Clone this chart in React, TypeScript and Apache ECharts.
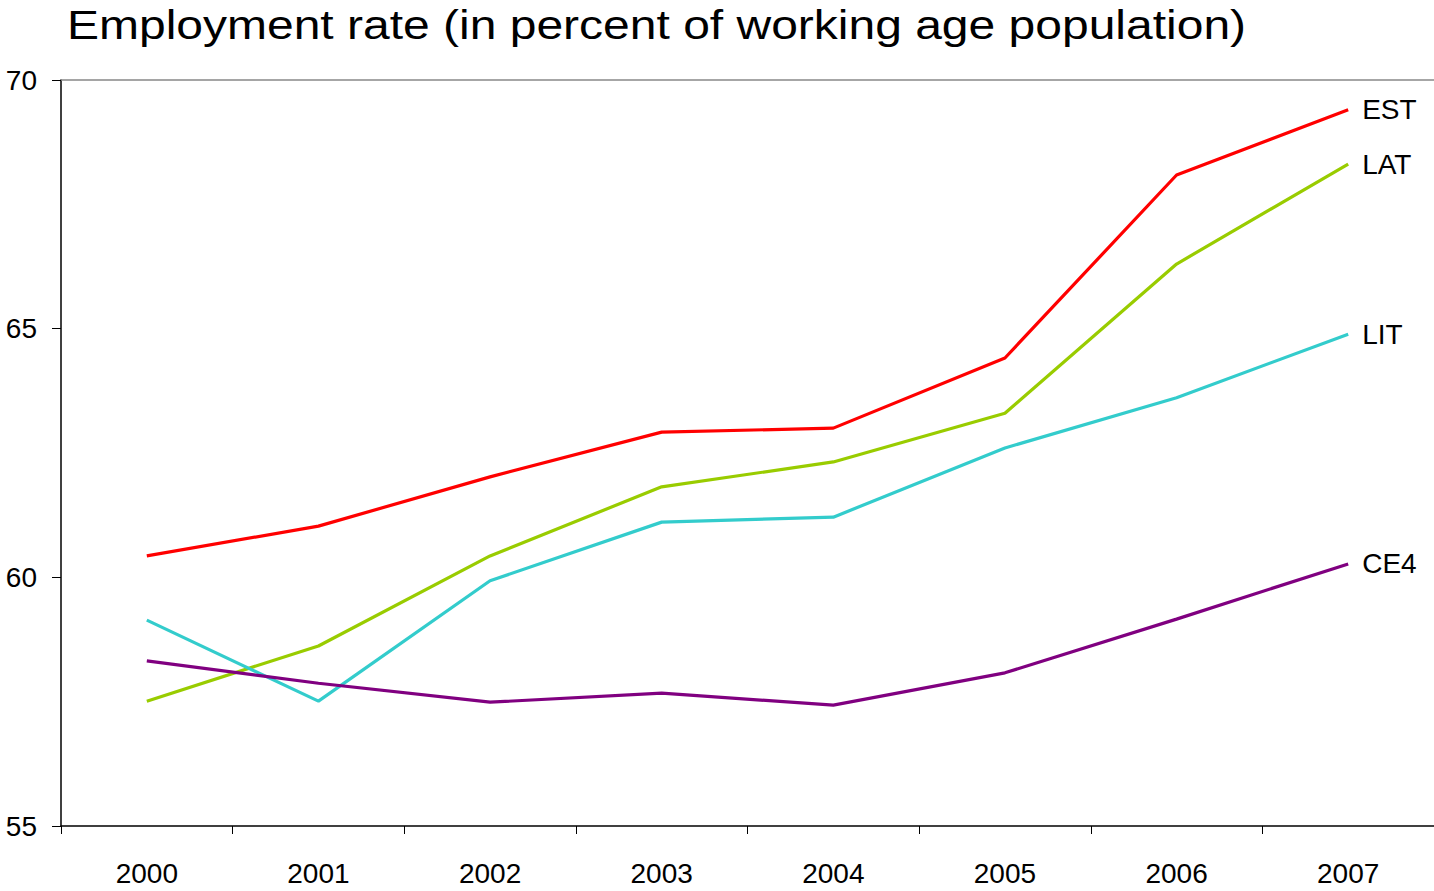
import React, { useEffect, useRef } from "react";
import * as echarts from "echarts";

const years = ["2000", "2001", "2002", "2003", "2004", "2005", "2006", "2007"];
const est = [60.43, 61.03, 62.02, 62.92, 63.0, 64.41, 68.09, 69.4];
const lat = [57.51, 58.62, 60.43, 61.82, 62.32, 63.3, 66.3, 68.31];
const lit = [59.14, 57.51, 59.93, 61.11, 61.21, 62.6, 63.61, 64.89];
const ce4 = [58.32, 57.87, 57.49, 57.67, 57.43, 58.08, 59.16, 60.27];
const seriesNames = ["EST", "LAT", "LIT", "CE4"];
const seriesColors = ["#FF0000", "#99CC00", "#33CCCC", "#800080"];
const titleText = "Employment rate (in percent of working age population)";

const FONT = "'Liberation Sans', Arial, sans-serif";

export default function App() {
  const ref = useRef<HTMLDivElement>(null);
  useEffect(() => {
    if (!ref.current) return;
    const chart = echarts.init(ref.current, null, { renderer: "svg" });
    const data = [est, lat, lit, ce4];
    chart.setOption({
      animation: false,
      backgroundColor: "#ffffff",
      textStyle: { fontFamily: FONT },
      graphic: [
        {
          type: "text",
          x: 67,
          y: 25,
          scaleX: 1.2,
          style: {
            text: titleText,
            fontSize: 40,
            fontFamily: FONT,
            fill: "#000",
            align: "left",
            verticalAlign: "middle",
          },
        },
      ],
      grid: { left: 61, right: 0, top: 80, bottom: 65, containLabel: false },
      xAxis: [
        {
          type: "category",
          data: years,
          boundaryGap: true,
          axisLine: { lineStyle: { color: "#000", width: 1.5 } },
          axisTick: { show: true, length: 8, inside: false, lineStyle: { color: "#000", width: 1 } },
          axisLabel: { color: "#000", fontSize: 28, margin: 33, fontFamily: FONT },
          splitLine: { show: false },
        },
        {
          type: "category",
          data: years,
          position: "top",
          axisLine: { lineStyle: { color: "#888", width: 1.5 } },
          axisTick: { show: false },
          axisLabel: { show: false },
          splitLine: { show: false },
        },
      ],
      yAxis: {
        type: "value",
        min: 55,
        max: 70,
        interval: 5,
        axisLine: { show: true, lineStyle: { color: "#000", width: 1.5 } },
        axisTick: { show: true, length: 9, lineStyle: { color: "#000", width: 1 } },
        axisLabel: { color: "#000", fontSize: 28, margin: 24, fontFamily: FONT, padding: [6, 0, 0, 0] },
        splitLine: { show: false },
      },
      series: seriesNames.map((name, i) => ({
        name,
        type: "line",
        data: data[i],
        symbol: "none",
        lineStyle: { color: seriesColors[i], width: 3.2 },
        itemStyle: { color: seriesColors[i] },
        endLabel: {
          show: true,
          formatter: "{a}",
          color: "#000",
          fontSize: 28,
          distance: 14,
          fontFamily: FONT,
          padding: [3, 0, 0, 0],
        },
      })),
    });
    return () => chart.dispose();
  }, []);
  return (
    <div
      ref={ref}
      style={{ position: "absolute", left: 0, top: 0, width: 1434, height: 891 }}
    />
  );
}
